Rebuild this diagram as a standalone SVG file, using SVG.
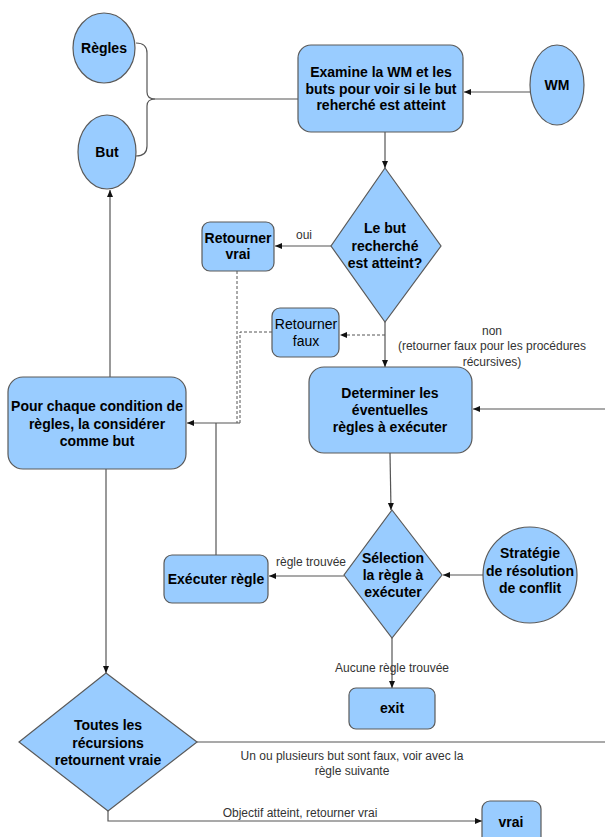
<svg xmlns="http://www.w3.org/2000/svg" width="605" height="837" viewBox="0 0 605 837">
  <style>
    .shape { fill: #99ccff; stroke: #5a5a5a; stroke-width: 1.2; }
    .title { font-family: "Liberation Sans", Arial, sans-serif; font-size: 14px; font-weight: bold; fill: #000; text-anchor: middle; }
    .plain { font-family: "Liberation Sans", Arial, sans-serif; font-size: 14px; fill: #000; text-anchor: middle; }
    .lbl { font-family: "Liberation Sans", Arial, sans-serif; font-size: 12px; fill: #333; text-anchor: middle; }
    .edge { fill: none; stroke: #555; stroke-width: 1.2; }
    .dash { fill: none; stroke: #555; stroke-width: 1; stroke-dasharray: 3 2; }
  </style>
  <defs>
    <marker id="arrow" markerUnits="userSpaceOnUse" markerWidth="8" markerHeight="8" refX="7" refY="4" orient="auto">
      <path d="M0,1 L7,4 L0,7 Z" fill="#111"/>
    </marker>
  </defs>
  <rect width="605" height="837" fill="#fff"/>

  <!-- connectors -->
  <g id="connectors">
    <!-- brace joining Règles and But to the examine step -->
    <path class="edge" d="M136,43 C143,43 147,46 147,53 L147,92 C147,97 150,99 155,99"/>
    <path class="edge" d="M136,156 C143,156 147,153 147,146 L147,106 C147,101 150,99 155,99"/>
    <path class="edge" d="M155,99 L298,99"/>
    <!-- WM into examine -->
    <path class="edge" d="M530,92 L464,92" marker-end="url(#arrow)"/>
    <!-- examine to decision -->
    <path class="edge" d="M385,132 L385,168" marker-end="url(#arrow)"/>
    <!-- oui -->
    <path class="edge" d="M331,246 L275,246" marker-end="url(#arrow)"/>
    <text class="lbl" x="304" y="239">oui</text>
    <!-- non -->
    <path class="edge" d="M385,322 L385,367" marker-end="url(#arrow)"/>
    <path class="dash" d="M385,335 L340,335" marker-end="url(#arrow)"/>
    <text class="lbl" x="492" y="335">non</text>
    <text class="lbl" x="492" y="350">(retourner faux pour les procédures</text>
    <text class="lbl" x="492" y="366">récursives)</text>
    <!-- return paths back to the rule loop -->
    <path class="dash" d="M237,271 L237,423"/>
    <path class="dash" d="M272,332 L240,332 L240,423"/>
    <path class="edge" d="M240,423 L187,423" marker-end="url(#arrow)"/>
    <path class="edge" d="M216,555 L216,423"/>
    <!-- loop back into determine -->
    <path class="edge" d="M605,409 L473,409" marker-end="url(#arrow)"/>
    <!-- determine to selection -->
    <path class="edge" d="M390,453 L391,510" marker-end="url(#arrow)"/>
    <!-- strategy into selection -->
    <path class="edge" d="M483,575 L443,575" marker-end="url(#arrow)"/>
    <!-- règle trouvée -->
    <path class="edge" d="M344,576 L269,576" marker-end="url(#arrow)"/>
    <text class="lbl" x="311" y="566">règle trouvée</text>
    <!-- aucune règle -->
    <path class="edge" d="M392,638 L392,688" marker-end="url(#arrow)"/>
    <text class="lbl" x="392" y="672">Aucune règle trouvée</text>
    <!-- rule loop -->
    <path class="edge" d="M110,377 L110,190" marker-end="url(#arrow)"/>
    <path class="edge" d="M106,469 L106,673" marker-end="url(#arrow)"/>
    <!-- recursion results -->
    <path class="edge" d="M197,742 L605,742"/>
    <text class="lbl" x="352" y="760">Un ou plusieurs but sont faux, voir avec la</text>
    <text class="lbl" x="352" y="775">règle suivante</text>
    <path class="edge" d="M108,811 L108,821 L482,821" marker-end="url(#arrow)"/>
    <text class="lbl" x="300" y="817">Objectif atteint, retourner vrai</text>
  </g>

  <g id="regles">
    <ellipse class="shape" cx="104" cy="48" rx="31" ry="35"/>
    <text class="title" x="104" y="53">Règles</text>
  </g>
  <g id="but">
    <ellipse class="shape" cx="107" cy="152" rx="29" ry="37"/>
    <text class="title" x="107" y="157">But</text>
  </g>
  <g id="examine">
    <rect class="shape" x="298" y="45" width="165" height="87" rx="13"/>
    <text class="title" x="381" y="77">Examine la WM et les</text>
    <text class="title" x="381" y="94">buts pour voir si le but</text>
    <text class="title" x="381" y="110">reherché est atteint</text>
  </g>
  <g id="wm">
    <ellipse class="shape" cx="557" cy="85" rx="27" ry="40"/>
    <text class="title" x="557" y="90">WM</text>
  </g>
  <g id="decision-atteint">
    <polygon class="shape" points="385,168 441,246 385,322 331,246"/>
    <text class="title" x="385" y="233">Le but</text>
    <text class="title" x="385" y="251">recherché</text>
    <text class="title" x="385" y="268">est atteint?</text>
  </g>
  <g id="retourner-vrai">
    <rect class="shape" x="202" y="222" width="72" height="49" rx="8"/>
    <text class="title" x="238" y="243">Retourner</text>
    <text class="title" x="238" y="259">vrai</text>
  </g>
  <g id="retourner-faux">
    <rect class="shape" x="272" y="308" width="67" height="49" rx="8"/>
    <text class="plain" x="306" y="329">Retourner</text>
    <text class="plain" x="306" y="346">faux</text>
  </g>
  <g id="pour-chaque">
    <rect class="shape" x="8" y="377" width="178" height="92" rx="15"/>
    <text class="title" x="97" y="411">Pour chaque condition de</text>
    <text class="title" x="97" y="429">règles, la considérer</text>
    <text class="title" x="97" y="446">comme but</text>
  </g>
  <g id="determiner">
    <rect class="shape" x="309" y="367" width="163" height="86" rx="15"/>
    <text class="title" x="390" y="398">Determiner les</text>
    <text class="title" x="390" y="415">éventuelles</text>
    <text class="title" x="390" y="432">règles à exécuter</text>
  </g>
  <g id="selection">
    <polygon class="shape" points="392,510 442,575 392,638 344,575"/>
    <text class="title" x="393" y="563">Sélection</text>
    <text class="title" x="393" y="580">la règle à</text>
    <text class="title" x="393" y="597">exécuter</text>
  </g>
  <g id="strategie">
    <ellipse class="shape" cx="530" cy="575" rx="47" ry="48"/>
    <text class="title" x="530" y="558">Stratégie</text>
    <text class="title" x="530" y="576">de résolution</text>
    <text class="title" x="530" y="593">de conflit</text>
  </g>
  <g id="executer">
    <rect class="shape" x="164" y="555" width="104" height="48" rx="8"/>
    <text class="title" x="216" y="584">Exécuter règle</text>
  </g>
  <g id="exit">
    <rect class="shape" x="349" y="688" width="86" height="41" rx="7"/>
    <text class="title" x="392" y="713">exit</text>
  </g>
  <g id="toutes">
    <polygon class="shape" points="106,673 197,742 108,811 19,742"/>
    <text class="title" x="108" y="730">Toutes les</text>
    <text class="title" x="108" y="748">récursions</text>
    <text class="title" x="108" y="765">retournent vraie</text>
  </g>
  <g id="vrai">
    <rect class="shape" x="482" y="801" width="59" height="48" rx="8"/>
    <text class="title" x="511" y="827">vrai</text>
  </g>
</svg>
